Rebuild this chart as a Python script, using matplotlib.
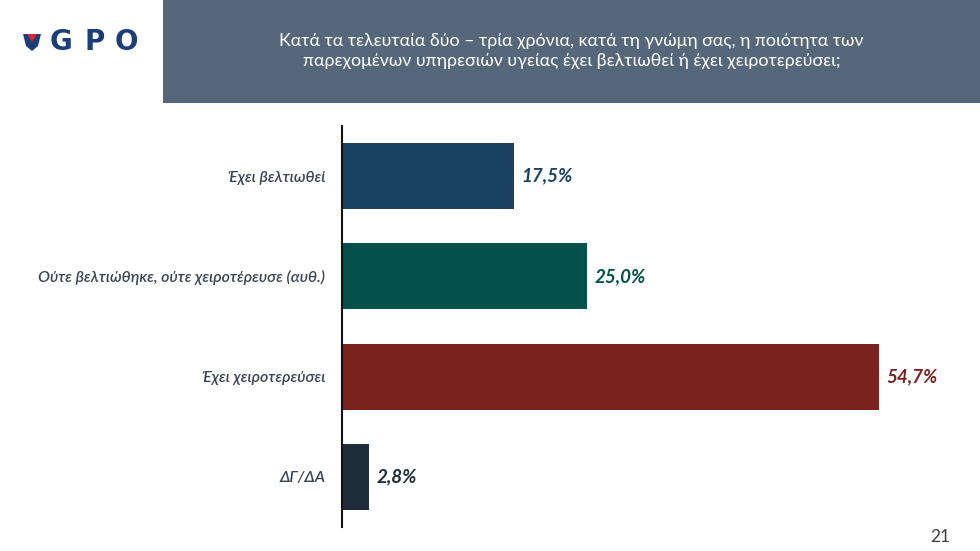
# Horizontal bar chart: perceived change in quality of health services (GPO survey slide)

import numpy as np
import matplotlib.pyplot as plt
from matplotlib.patches import Rectangle, Polygon

# --------------------------- DATA ---------------------------

categories = ['Έχει βελτιωθεί',
              'Ούτε βελτιώθηκε, ούτε χειροτέρευσε (αυθ.)',
              'Έχει χειροτερεύσει',
              'ΔΓ/ΔΑ']
values = [17.5, 25.0, 54.7, 2.8]
value_labels = ['17,5%', '25,0%', '54,7%', '2,8%']
bar_colors = ['#1a4260', '#04504a', '#7a221e', '#1f2d3b']

title_text = ('Κατά τα τελευταία δύο – τρία χρόνια, κατά τη γνώμη σας, η ποιότητα των\n'
              'παρεχομένων υπηρεσιών υγείας έχει βελτιωθεί ή έχει χειροτερεύσει;')
page_number = '21'

# --------------------------- FIGURE ---------------------------

plt.rcParams['font.family'] = ['Lato', 'Noto Sans', 'DejaVu Sans']

W, H = 980, 551
fig = plt.figure(figsize=(W / 100, H / 100), dpi=100)
fig.patch.set_facecolor('white')

# Header box with the question.
fig.patches.append(Rectangle((163 / W, 1 - 103 / H), (W - 163) / W, 103 / H,
                             transform=fig.transFigure, facecolor='#56677b',
                             edgecolor='none', zorder=0))
fig.text((163 + W) / 2 / W, 1 - 51 / H, title_text, ha='center', va='center',
         color='white', fontsize=12.8, linespacing=1.3, fontweight='normal')

# GPO logo.
fig.patches.append(Polygon([(23 / W, 1 - 34 / H), (41 / W, 1 - 34 / H), (38 / W, 1 - 46 / H),
                            (32 / W, 1 - 51 / H), (26 / W, 1 - 46 / H)],
                           closed=True, transform=fig.transFigure,
                           facecolor='#1b3d78', edgecolor='none'))
fig.patches.append(Polygon([(27 / W, 1 - 34 / H), (37 / W, 1 - 34 / H), (32 / W, 1 - 42 / H)],
                           closed=True, transform=fig.transFigure,
                           facecolor='#d8262e', edgecolor='none'))
for letter, xc in zip('GPO', [61, 95, 126]):
    fig.text(xc / W, 1 - 42 / H, letter, ha='center', va='center', color='#1b3d78',
             fontsize=20, fontweight='heavy', family=['DejaVu Sans'])

# Page number.
fig.text(950 / W, 1 - 537 / H, page_number, ha='right', va='center',
         color='#404040', fontsize=12.5)

# --------------------------- BARS ---------------------------

ax = fig.add_axes([342 / W, 1 - 527 / H, 589 / W, 401 / H])
y = np.arange(len(categories))
ax.barh(y, values, height=0.66, color=bar_colors)

ax.set_xlim(0, 60)
ax.set_ylim(len(categories) - 0.5, -0.5)

for yi, v, lab, c in zip(y, values, value_labels, bar_colors):
    ax.text(v + 0.75, yi, lab, ha='left', va='center', color=c,
            fontsize=13.5, fontweight='bold', fontstyle='italic')

ax.set_yticks(y)
ax.set_yticklabels(categories, fontstyle='italic', fontsize=11.5, color='#3a4452',
                   fontweight='semibold')
ax.tick_params(axis='y', length=0, pad=12)
ax.set_xticks([])

for side in ['top', 'right', 'bottom']:
    ax.spines[side].set_visible(False)
ax.spines['left'].set_color('#111111')
ax.spines['left'].set_linewidth(1.5)
ax.set_facecolor('none')

fig.savefig('out.png', dpi=100)
